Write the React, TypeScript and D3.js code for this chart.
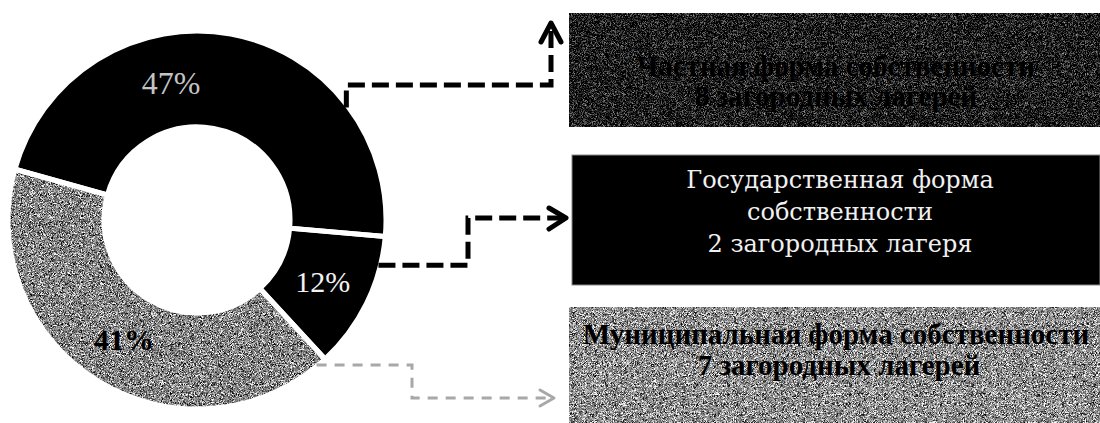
import React from "react";
import * as d3 from "d3";

// ---- data ----
const categories = [
  "Частная форма собственности",
  "Государственная форма собственности",
  "Муниципальная форма собственности",
];
const campCounts = [8, 2, 7];
const boxLine1 = ["Частная форма собственности", "Государственная форма", "Муниципальная форма собственности"];
const boxLine2 = ["8 загородных лагерей", "собственности", "7 загородных лагерей"];
const boxLine3 = ["", "2 загородных лагеря", ""];

// ---- layout ----
const W = 1100;
const H = 423;
const CX = 197;
const CY = 220;
const R_OUT = 189;
const R_IN = 93;
const START_DEG = -74.4;
const LABEL_SHIFT_DEG = [-21, 0, 0];
const BOX_X = 569;
const BOX_Y = [
  [13, 127],
  [155, 285],
  [307, 423],
];

const rad = (d: number) => (d * Math.PI) / 180;
const polar = (r: number, aDeg: number): [number, number] => [
  CX + r * Math.sin(rad(aDeg)),
  CY - r * Math.cos(rad(aDeg)),
];

function NoiseFilter({ id, slope, mean, seed }: { id: string; slope: number; mean: number; seed: number }) {
  const b = mean - slope * 0.5;
  const row = `${slope} 0 0 0 ${b}`;
  return (
    <filter id={id} x="0" y="0" width="1" height="1" colorInterpolationFilters="sRGB">
      <feTurbulence type="fractalNoise" baseFrequency="2.1" numOctaves="1" seed={seed} result="t" />
      <feColorMatrix in="t" type="matrix" values={`${row}  ${row}  ${row}  0 0 0 0 1`} result="g" />
      <feComposite in="g" in2="SourceGraphic" operator="in" />
    </filter>
  );
}

export default function App() {
  const total = d3.sum(campCounts);
  const pie = d3
    .pie<number>()
    .value((d) => d)
    .sort(null)
    .startAngle(rad(START_DEG))
    .endAngle(rad(START_DEG) + 2 * Math.PI);
  const arcs = pie(campCounts);
  const arc = d3.arc<d3.PieArcDatum<number>>().innerRadius(R_IN).outerRadius(R_OUT);
  const pct = (v: number) => `${Math.round((v / total) * 100)}%`;
  const labelR = (R_IN + R_OUT) / 2 - 1;

  const line = d3.line();

  // connector anchors on the ring
  const sTop = polar(187, 53);
  const sMid = polar(187, 104);
  const sBot = polar(188, 140.5);
  const topPath: [number, number][] = [sTop, [sTop[0], 85], [551, 85], [551, 26]];
  const midPath: [number, number][] = [sMid, [468, sMid[1]], [468, 218], [562, 218]];
  const botPath: [number, number][] = [sBot, [412, sBot[1]], [412, 398], [550, 398]];

  const labelStyle = [
    { fill: "#c4c4c4", weight: 400, size: 32 },
    { fill: "#f2f2f2", weight: 400, size: 30 },
    { fill: "#000", weight: 700, size: 30 },
  ];

  return (
    <svg
      width={W}
      height={H}
      style={{ position: "absolute", left: 0, top: 0, display: "block", background: "#fff" }}
    >
      <defs>
        <NoiseFilter id="noiseGrey" slope={2.2} mean={0.52} seed={3} />
        <NoiseFilter id="noiseGreyBox" slope={2.2} mean={0.56} seed={5} />
        <NoiseFilter id="noiseDark" slope={1.8} mean={0.1} seed={7} />
      </defs>

      {/* donut */}
      <g transform={`translate(${CX},${CY})`}>
        {arcs.map((a, i) => (
          <path
            key={categories[i]}
            d={arc(a) || ""}
            fill={i === 2 ? "#8e8e8e" : "#000"}
            filter={i === 2 ? "url(#noiseGrey)" : undefined}
          />
        ))}
        {arcs.map((a, i) => (
          <path key={"s" + i} d={arc(a) || ""} fill="none" stroke="#fff" strokeWidth={5} />
        ))}
        {arcs.map((a, i) => {
          const mid = (a.startAngle + a.endAngle) / 2 + rad(LABEL_SHIFT_DEG[i]);
          const x = labelR * Math.sin(mid);
          const y = -labelR * Math.cos(mid);
          const st = labelStyle[i];
          return (
            <text
              key={"l" + i}
              x={x}
              y={y}
              dy="0.35em"
              textAnchor="middle"
              fontFamily="'Liberation Serif', serif"
              fontSize={st.size}
              fontWeight={st.weight}
              fill={st.fill}
            >
              {pct(a.data)}
            </text>
          );
        })}
      </g>

      {/* boxes */}
      <rect x={BOX_X} y={BOX_Y[0][0]} width={W - BOX_X} height={BOX_Y[0][1] - BOX_Y[0][0]} fill="#222" filter="url(#noiseDark)" />
      <rect x={BOX_X + 3} y={BOX_Y[1][0]} width={W - BOX_X - 3} height={BOX_Y[1][1] - BOX_Y[1][0]} fill="#000" stroke="#888" strokeWidth={1} />
      <rect x={BOX_X} y={BOX_Y[2][0]} width={W - BOX_X} height={BOX_Y[2][1] - BOX_Y[2][0]} fill="#888" filter="url(#noiseGreyBox)" />

      {/* top box text (black on dark) */}
      <g fontFamily="'Liberation Serif', serif" fontWeight={700} fontSize={29} fill="#000" textAnchor="middle">
        <text x={836} y={76}>{boxLine1[0]}</text>
        <text x={836} y={106}>{boxLine2[0]}</text>
      </g>
      {/* middle box text */}
      <g fontFamily="'DejaVu Serif', serif" fontSize={24} fill="#f0f0f0" textAnchor="middle">
        <text x={840} y={188}>{boxLine1[1]}</text>
        <text x={840} y={220}>{boxLine2[1]}</text>
        <text x={840} y={252}>{boxLine3[1]}</text>
      </g>
      {/* bottom box text */}
      <g fontFamily="'Liberation Serif', serif" fontWeight={700} fontSize={29} fill="#000" textAnchor="middle">
        <text x={836} y={344}>{boxLine1[2]}</text>
        <text x={839} y={375}>{boxLine2[2]}</text>
      </g>

      {/* connectors */}
      <path d={line(topPath) || ""} fill="none" stroke="#000" strokeWidth={5} strokeDasharray="17 7" />
      <path d="M541,42 L551,23 L561,42" fill="none" stroke="#000" strokeWidth={5} strokeLinecap="round" strokeLinejoin="round" />
      <path d={line(midPath) || ""} fill="none" stroke="#000" strokeWidth={5} strokeDasharray="17 7" />
      <path d="M549,208 L566,218 L549,229" fill="none" stroke="#000" strokeWidth={5} strokeLinecap="round" strokeLinejoin="round" />
      <path d={line(botPath) || ""} fill="none" stroke="#a8a8a8" strokeWidth={3} strokeDasharray="10 8" />
      <path d="M540,390 L554,398 L540,406" fill="none" stroke="#a8a8a8" strokeWidth={3} strokeLinecap="round" strokeLinejoin="round" />
    </svg>
  );
}
